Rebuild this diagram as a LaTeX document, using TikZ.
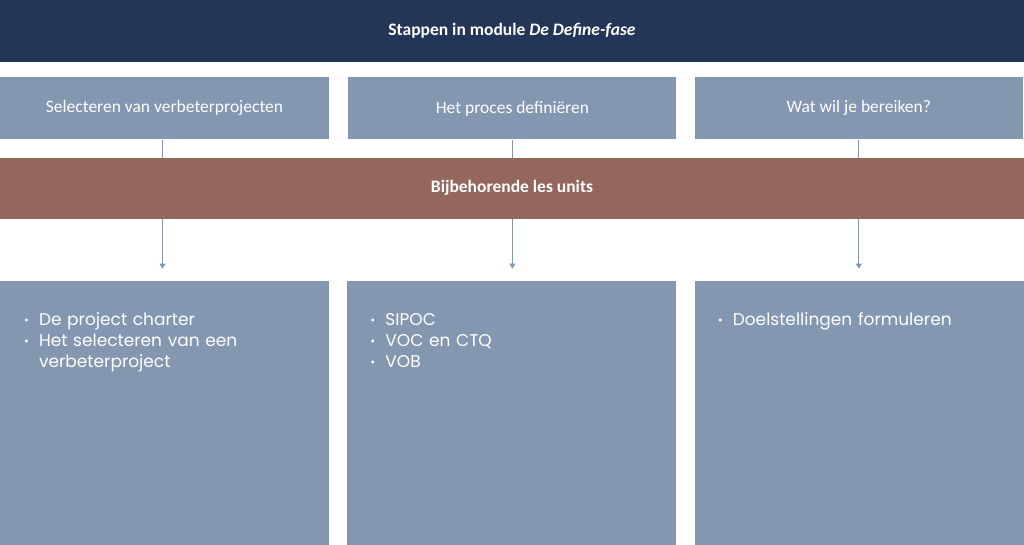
\documentclass[tikz,border=0pt]{standalone}
\usepackage{fontspec}
\setmainfont{Carlito}
\newfontfamily\unitfont{Poppins}
\usetikzlibrary{positioning, arrows.meta}

\definecolor{navy}{HTML}{243657}
\definecolor{steel}{HTML}{8497B0}
\definecolor{clay}{HTML}{94675C}

\tikzset{
    titlebar/.style={fill=navy, text=white, minimum width=1024pt, minimum height=62pt,
        inner sep=0pt, font=\fontsize{17.5}{20}\selectfont\bfseries},
    stepbox/.style={fill=steel, text=white, minimum height=62pt, inner sep=0pt,
        font=\fontsize{17.5}{20}\selectfont},
    unitbar/.style={fill=clay, text=white, minimum width=1024pt, minimum height=61pt,
        inner sep=0pt, font=\fontsize{17.5}{20}\selectfont\bfseries},
    unitbox/.style={fill=steel, minimum height=265pt, inner sep=0pt},
    unitlist/.style={text=white, text width=290pt, align=left, inner sep=0pt,
        font=\unitfont\fontsize{17}{21}\selectfont},
    linkarrow/.style={draw=steel, line width=1pt, -{Triangle[width=6pt,length=5pt]}},
}
\newcommand{\unititem}[1]{\par\noindent
    \makebox[15pt][l]{\raisebox{1pt}{\fontsize{12}{12}\selectfont\textbullet}}\parbox[t]{270pt}{#1}}

\begin{document}
\begin{tikzpicture}[x=1pt, y=1pt]
    \useasboundingbox (0,0) rectangle (1024,-545);
    % header
    \node[titlebar] (title) at (512,-31) {Stappen in module \textit{De Define-fase}};

    % steps
    \node[stepbox, minimum width=329pt, below right=15pt and 0pt of title.south west] (step1)
        {Selecteren van verbeterprojecten};
    \node[stepbox, minimum width=328pt, right=19pt of step1] (step2) {Het proces definiëren};
    \node[stepbox, minimum width=328pt, right=18pt of step2] (step3) {Wat wil je bereiken?};

    % units
    \node[unitbox, minimum width=329pt, below right=141pt and 0pt of step1.south west] (unit1) {};
    \node[unitbox, minimum width=329pt, right=18pt of unit1] (unit2) {};
    \node[unitbox, minimum width=330pt, right=18pt of unit2] (unit3) {};

    \draw[linkarrow, shorten >=12pt] ([xshift=-2pt]step1.south) -- ([xshift=-2pt]step1.south |- unit1.north);
    \draw[linkarrow, shorten >=12pt] (step2.south) -- (step2.south |- unit2.north);
    \draw[linkarrow, shorten >=12pt] (step3.south) -- (step3.south |- unit3.north);

    \node[unitbar, below right=18pt and 0pt of step1.south west] (bar) {Bijbehorende les units};

    \node[unitlist, below right=24pt and 24pt of unit1.north west] (list1)
        {\unititem{De project charter}\unititem{Het selecteren van een\\verbeterproject}};
    \node[unitlist, below right=24pt and 23pt of unit2.north west] (list2)
        {\unititem{SIPOC}\unititem{VOC en CTQ}\unititem{VOB}};
    \node[unitlist, below right=24pt and 23pt of unit3.north west] (list3)
        {\unititem{Doelstellingen formuleren}};
\end{tikzpicture}
\end{document}
